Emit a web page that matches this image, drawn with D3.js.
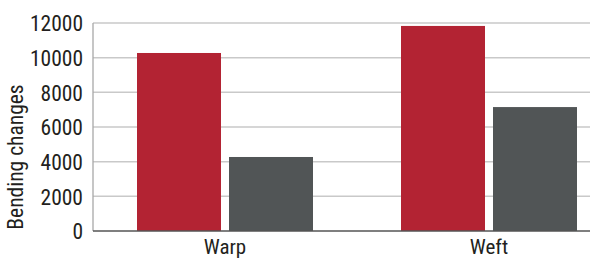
<!DOCTYPE html>
<html>
<head>
<meta charset="utf-8">
<script src="https://cdn.jsdelivr.net/npm/d3@7"></script>
<style>
  body { margin: 0; background: #fff; }
  text { font-family: "Liberation Sans Narrow", "Roboto Condensed", "Liberation Sans", sans-serif; fill: #231f20; }
</style>
</head>
<body>
<svg id="chart"></svg>
<script>
// data
const categories = ['Warp', 'Weft'];
const series = ['A', 'B'];
const valuesA = [10270, 11830];
const valuesB = [4270, 7150];
const yTicks = [0, 2000, 4000, 6000, 8000, 10000, 12000];
const colors = ['#b32333', '#515556'];

const width = 590, height = 259;
const margin = {top: 23, left: 93, bottom: 28};

const svg = d3.select('#chart')
    .attr('width', width)
    .attr('height', height);

// band spans past the right edge, as in the source
const x0 = d3.scaleBand()
    .domain(categories)
    .range([margin.left, margin.left + 528])
    .paddingInner(0)
    .paddingOuter(0);

const x1 = d3.scaleBand()
    .domain(series)
    .range([44, 220])
    .paddingInner(8 / 92);

const y = d3.scaleLinear()
    .domain([0, 12000])
    .range([height - margin.bottom, margin.top]);

// gridlines
svg.append('g')
    .selectAll('line')
    .data(yTicks.filter(d => d > 0))
    .join('line')
    .attr('x1', margin.left)
    .attr('x2', width)
    .attr('y1', d => y(d))
    .attr('y2', d => y(d))
    .attr('stroke', '#c9c9c9')
    .attr('stroke-width', 1.5);

// y axis line
svg.append('line')
    .attr('x1', margin.left).attr('x2', margin.left)
    .attr('y1', y(12000)).attr('y2', y(0))
    .attr('stroke', '#a8a8a8')
    .attr('stroke-width', 1.3);

const yAxis = d3.axisLeft(y)
    .tickValues(yTicks)
    .tickSize(0)
    .tickPadding(10)
    .tickFormat(d3.format('d'));

svg.append('g')
    .attr('transform', `translate(${margin.left},0)`)
    .call(yAxis)
    .call(g => g.select('.domain').remove())
    .call(g => g.selectAll('text')
        .attr('font-size', 21.5)
        .attr('font-family', null)
        .attr('dy', '0.36em'));

// bars
const rows = categories.map((c, i) => ({cat: c, vals: [valuesA[i], valuesB[i]]}));

svg.append('g')
    .selectAll('g')
    .data(rows)
    .join('g')
    .attr('transform', d => `translate(${x0(d.cat)},0)`)
    .selectAll('rect')
    .data(d => d.vals.map((v, j) => ({key: series[j], v, j})))
    .join('rect')
    .attr('x', d => x1(d.key))
    .attr('width', x1.bandwidth())
    .attr('y', d => y(d.v))
    .attr('height', d => y(0) - y(d.v))
    .attr('fill', d => colors[d.j]);

// baseline
svg.append('line')
    .attr('x1', margin.left).attr('x2', width)
    .attr('y1', y(0)).attr('y2', y(0))
    .attr('stroke', '#555')
    .attr('stroke-width', 1.5);

// x labels
svg.append('g')
    .selectAll('text')
    .data(categories)
    .join('text')
    .attr('x', d => x0(d) + 44 + 88)
    .attr('y', 254)
    .attr('text-anchor', 'middle')
    .attr('font-size', 21)
    .text(d => d);

// y title
svg.append('text')
    .attr('transform', `translate(23,157) rotate(-90)`)
    .attr('text-anchor', 'middle')
    .attr('font-size', 21.5)
    .text('Bending changes');
</script>
</body>
</html>
